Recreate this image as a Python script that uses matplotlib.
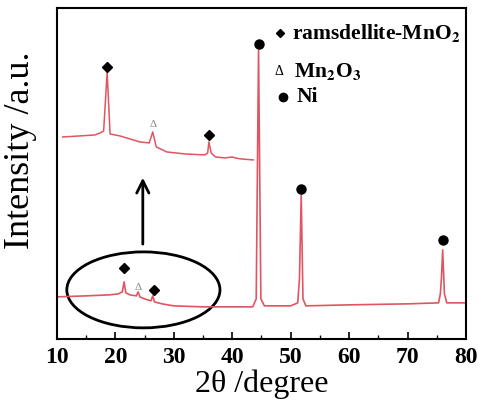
import numpy as np
import matplotlib
matplotlib.use("Agg")
import matplotlib.pyplot as plt
from matplotlib.patches import Ellipse

plt.rcParams['font.family'] = ['Liberation Serif', 'DejaVu Serif']
plt.rcParams['mathtext.fontset'] = 'stix'

# main XRD pattern (2theta, intensity a.u.)
two_theta = [10, 15, 19, 20.5, 21.2, 21.5, 21.8, 22.5, 23.6, 23.9, 24.2, 25, 26.1, 26.4, 26.7,
             28, 30, 35, 40, 43.5, 44.1, 44.5, 44.9, 45.5, 48, 50, 51.2, 51.5, 51.8, 52.1,
             52.6, 60, 70, 75.3, 75.6, 75.8, 76.0, 76.3, 76.7, 80]
intensity = [42, 43, 44, 45, 47, 57, 46, 44, 43, 47, 42, 40, 38, 43, 37,
             35, 33, 32, 32, 32, 40, 289, 40, 33, 33, 33, 36, 60, 144, 40,
             33, 34, 35, 36, 45, 62, 89, 45, 36, 36]

# magnified low-angle region (drawn above)
zoom_theta = [11.0, 13.9, 16.5, 17.4, 18.0, 18.6, 19.1, 20.8, 24.2, 25.8, 26.4, 27.0,
              28.8, 31.9, 35.3, 35.8, 36.0, 36.4, 37.1, 38.8, 40.0, 40.5, 41.5, 43.6]
zoom_int = [202, 203, 204, 206, 208, 267, 205, 203, 197, 196, 207, 192,
            187, 185, 184, 186, 197, 186, 182, 181, 182, 181, 180, 179]

# phase markers
mno2_x = [18.6, 36.0, 21.5, 26.6]
mno2_y = [272, 204, 71, 49]
mn2o3_x = [26.4, 23.9]
mn2o3_y = [214, 51]
ni_x = [44.5, 51.8, 76.0]
ni_y = [295, 150, 99]

fig = plt.figure(figsize=(4.78, 4.01), dpi=100)
ax = fig.add_axes([0.119, 0.155, 0.856, 0.825])

red = '#e05560'
ax.plot(two_theta, intensity, color=red, lw=1.2)
ax.plot(zoom_theta, zoom_int, color=red, lw=1.1)

ax.plot(mno2_x, mno2_y, 'D', color='black', ms=5, ls='none')
ax.plot(ni_x, ni_y, 'o', color='black', ms=6.5, ls='none')
for x, y in zip(mn2o3_x, mn2o3_y):
    ax.text(x, y, u'\u0394', color='#888888', fontsize=8, ha='center', va='center')

# legend-like labels
ax.plot([48.2], [306], 'D', color='black', ms=4)
ax.text(50.2, 306, r'ramsdellite-MnO$_\mathbf{2}$', fontsize=15.5, fontweight='bold', va='center')
ax.text(48.0, 267, u'\u0394', fontsize=10, ha='center', va='center')
ax.text(50.5, 267, r'Mn$_\mathbf{2}$O$_\mathbf{3}$', fontsize=15.5, fontweight='bold', va='center')
ax.plot([48.7], [242], 'o', color='black', ms=6)
ax.text(51.0, 242, 'Ni', fontsize=15.5, fontweight='bold', va='center')

# arrow and ellipse
ax.annotate('', xy=(24.7, 164), xytext=(24.7, 92),
            arrowprops=dict(arrowstyle='->', lw=2, color='black', mutation_scale=22))
ax.add_patch(Ellipse((24.8, 49), 26.2, 76, fill=False, lw=2, color='black'))

ax.set_xlim(10, 80)
ax.set_ylim(0, 331)
ax.set_xticks([10, 20, 30, 40, 50, 60, 70, 80])
ax.set_xticks([15, 25, 35, 45, 55, 65, 75], minor=True)
ax.set_yticks([])
ax.tick_params(axis='x', direction='in', length=5, width=1.2, labelsize=17, pad=6)
ax.tick_params(axis='x', which='minor', direction='in', length=3, width=1)
for lab in ax.get_xticklabels():
    lab.set_fontweight('bold')
for s in ax.spines.values():
    s.set_linewidth(1.5)

ax.set_xlabel(u'2\u03b8 /degree', fontsize=23, labelpad=1)
fig.text(0.042, 0.626, 'Intensity /a.u.', rotation=90, fontsize=26, ha='center', va='center')

fig.savefig('out.png', dpi=100)
